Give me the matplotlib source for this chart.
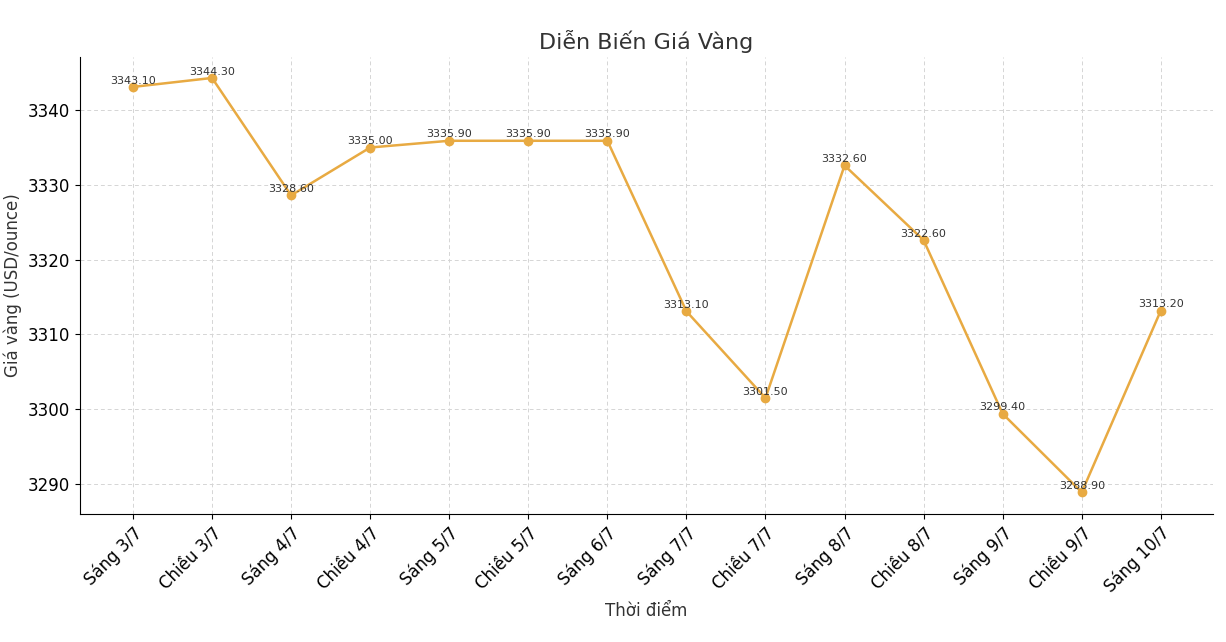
import matplotlib
matplotlib.use("Agg")
import matplotlib.pyplot as plt

labels = ["Sáng 3/7","Chiều 3/7","Sáng 4/7","Chiều 4/7","Sáng 5/7","Chiều 5/7","Sáng 6/7",
          "Sáng 7/7","Chiều 7/7","Sáng 8/7","Chiều 8/7","Sáng 9/7","Chiều 9/7","Sáng 10/7"]
prices = [3343.10,3344.30,3328.60,3335.00,3335.90,3335.90,3335.90,
          3313.10,3301.50,3332.60,3322.60,3299.40,3288.90,3313.20]

fig = plt.figure(figsize=(12.26,6.42), dpi=100)
ax = fig.add_axes([80/1226, 1-514/642, (1213-80)/1226, (514-57)/642])
x = list(range(len(labels)))
color = "#E8AA42"
ax.plot(x, prices, color=color, marker="o", markersize=6, linewidth=1.8)
for xi, v in zip(x, prices):
    ax.annotate(f"{v:.2f}", (xi, v), textcoords="offset points", xytext=(0,1),
                ha="center", va="bottom", fontsize=8, color="#333333")
ax.set_xticks(x)
ax.set_xticklabels(labels, rotation=45, ha="right", rotation_mode="anchor", fontsize=12)
ax.tick_params(axis="y", labelsize=12)
ax.set_xlim(-0.67, 13.66)
ax.set_ylim(3286, 3347.1)
ax.set_yticks([3290,3300,3310,3320,3330,3340])
ax.grid(True, linestyle=(0,(4,3)), color="#d5d5d5", linewidth=0.7)
for s in ["top","right"]:
    ax.spines[s].set_visible(False)
ax.set_title("Diễn Biến Giá Vàng", fontsize=16, color="#333333", pad=6)
ax.set_xlabel("Thời điểm", fontsize=12, color="#333333")
ax.set_ylabel("Giá vàng (USD/ounce)", fontsize=12, color="#333333")
fig.savefig("out.png", dpi=100)
